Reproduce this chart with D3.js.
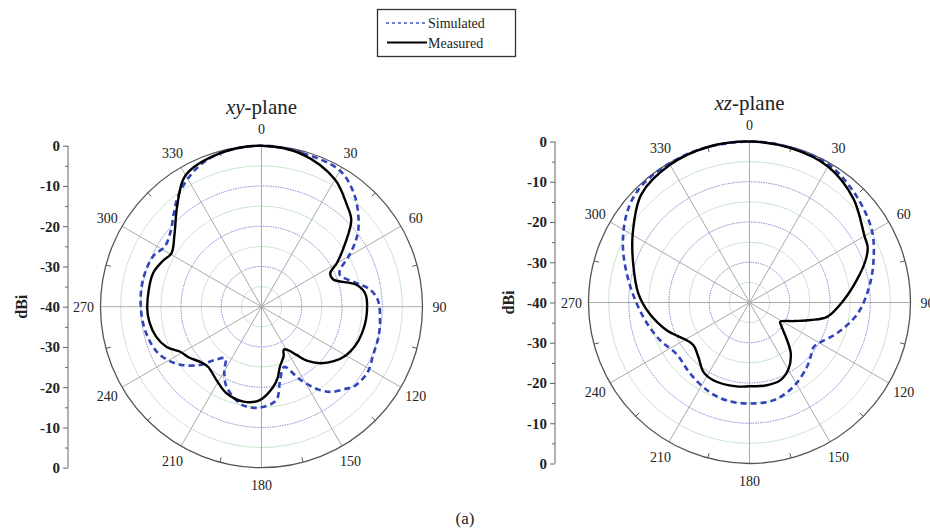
<!DOCTYPE html>
<html>
<head>
<meta charset="utf-8">
<script src="https://cdn.jsdelivr.net/npm/d3@7"></script>
<style>
  body { margin: 0; background: #fff; }
  svg text { font-family: "Liberation Serif", "DejaVu Serif", "Times New Roman", serif; fill: #222; }
</style>
</head>
<body>
<div id="chart"></div>
<script>
// [angle in degrees clockwise from 0, gain in dBi]
const xyMeasured = [
  [0, 0], [15, -0.8], [30, -3.5], [40, -7], [46, -9], [53, -14], [60, -18.4], [64, -21],
  [69, -21], [77, -15.8], [83, -14], [94, -13.8], [105, -14.2], [113, -14.8], [120, -15.8],
  [127, -17.5], [134, -19.8], [140, -22.5], [144, -25.2], [149, -27.5], [152.5, -28],
  [156, -26.5], [163, -24.4], [167, -22], [171.6, -19.9], [181, -16.8], [190.7, -16],
  [202, -16.8], [211.5, -18.6], [221.5, -20], [228, -19.5], [235, -18], [241, -16.9],
  [247, -14.4], [254, -12.8], [262, -11.9], [270, -11.6], [287, -11.8], [295, -13],
  [300.6, -14], [310, -11.8], [320, -7.4], [330, -2.3], [345, -0.5]
];
const xySimulated = [
  [0, 0], [15, -0.5], [30, -1], [40, -4], [50, -8.5], [55, -11.4], [60, -15], [65, -18.5],
  [68, -19], [76, -15.7], [81, -12.7], [87, -11], [96, -10.4], [104, -10], [113, -9.8],
  [122, -9], [131, -9.7], [134, -10.7], [140, -12.4], [145, -14.7], [152, -19.4],
  [159.4, -24], [166, -21], [171, -16.5], [181, -14.9], [188.5, -14.9], [192.5, -15.3],
  [203.6, -18.3], [210, -21.5], [215, -24.3], [222, -22], [226.5, -19], [235, -15],
  [245, -12], [257, -10.6], [270, -10], [283, -9.8], [295, -10.3], [302, -11.7],
  [310, -10.6], [317, -8.1], [324, -5.2], [335, -2], [345, -0.5]
];
const xzMeasured = [
  [0, 0], [15, -0.3], [30, -1], [45, -3.5], [60, -7], [65, -7.6], [70, -9.3], [78, -12.7],
  [88.6, -16.6], [100.5, -20.4], [106, -24.2], [112.6, -28], [122, -31], [127, -30],
  [135, -26.8], [141, -23.7], [149.4, -20.9], [158.5, -19.2], [170, -19], [180, -19.2],
  [189, -18.9], [205, -18.7], [213.6, -19.3], [223, -21.4], [232.7, -22.5], [239, -21.8],
  [251.5, -18.3], [263.7, -15], [274.6, -12.3], [288.6, -9.5], [300.6, -6.3], [315, -2],
  [330, -0.5], [345, 0]
];
const xzSimulated = [
  [0, 0], [15, -0.2], [30, -0.5], [45, -2.5], [59.4, -4.7], [71, -7.4], [82.5, -10],
  [95.9, -13], [109.5, -17], [118, -19.5], [124.7, -20.6], [131, -19.8], [138, -18.6],
  [152.5, -16.4], [166, -15], [180, -14.9], [193, -15], [206, -15.8], [220, -17],
  [235, -17.8], [247, -15.9], [262, -13.4], [280.5, -9.4], [296, -5], [309.7, -1.5],
  [321.5, -0.3], [340, 0]
];

const angleTicks = d3.range(0, 360, 30);
const majorRings = [-30, -20, -10];
const minorRings = [-35, -25, -15, -5];
const axisTicks = d3.range(0, 81, 10);
const axisMinorTicks = d3.range(5, 80, 10);

const width = 930, height = 532;
const R = 161;
const serif = '"Liberation Serif", "DejaVu Serif", "Times New Roman", serif';

const svg = d3.select('#chart').append('svg')
  .attr('width', width)
  .attr('height', height)
  .attr('font-family', serif);

// legend
const legend = svg.append('g');
legend.append('rect')
  .attr('x', 377.5).attr('y', 9.5).attr('width', 138).attr('height', 47)
  .attr('fill', 'none').attr('stroke', '#333').attr('stroke-width', 1.3);
legend.append('line')
  .attr('x1', 386).attr('x2', 427).attr('y1', 23).attr('y2', 23)
  .attr('stroke', '#4455cc').attr('stroke-width', 1.6).attr('stroke-dasharray', '3,3');
legend.append('text').attr('x', 428).attr('y', 28).attr('font-size', 14).text('Simulated');
legend.append('line')
  .attr('x1', 387).attr('x2', 427).attr('y1', 42.5).attr('y2', 42.5)
  .attr('stroke', '#000').attr('stroke-width', 2);
legend.append('text').attr('x', 428).attr('y', 47.5).attr('font-size', 14).text('Measured');

function drawPanel(opts) {
  const cx = opts.cx, cy = opts.cy;
  const r = d3.scaleLinear().domain([-40, 0]).range([0, R]);

  // title
  const title = svg.append('text')
    .attr('x', cx).attr('y', cy - 193)
    .attr('text-anchor', 'middle')
    .attr('font-size', 21);
  title.append('tspan').attr('font-style', 'italic').text(opts.plane);
  title.append('tspan').text('-plane');

  const g = svg.append('g').attr('transform', `translate(${cx},${cy})`);

  g.selectAll('.minor-ring')
    .data(minorRings)
    .enter().append('circle')
    .attr('r', d => r(d))
    .attr('fill', 'none')
    .attr('stroke', '#c4e2c4')
    .attr('stroke-width', 0.9);

  g.selectAll('.major-ring')
    .data(majorRings)
    .enter().append('circle')
    .attr('r', d => r(d))
    .attr('fill', 'none')
    .attr('stroke', '#7777cc')
    .attr('stroke-width', 0.9)
    .attr('stroke-dasharray', '1.5,1');

  g.selectAll('.spoke')
    .data(angleTicks)
    .enter().append('line')
    .attr('x1', 0).attr('y1', 0)
    .attr('x2', d => R * Math.sin(d * Math.PI / 180))
    .attr('y2', d => -R * Math.cos(d * Math.PI / 180))
    .attr('stroke', '#aaa')
    .attr('stroke-width', 1);

  g.append('circle')
    .attr('r', R)
    .attr('fill', 'none')
    .attr('stroke', '#555')
    .attr('stroke-width', 1.3);

  // minor angle ticks on the rim
  g.selectAll('.rim-tick')
    .data(angleTicks.map(d => d + 15))
    .enter().append('line')
    .attr('x1', d => R * Math.sin(d * Math.PI / 180))
    .attr('y1', d => -R * Math.cos(d * Math.PI / 180))
    .attr('x2', d => (R - 5) * Math.sin(d * Math.PI / 180))
    .attr('y2', d => -(R - 5) * Math.cos(d * Math.PI / 180))
    .attr('stroke', '#555')
    .attr('stroke-width', 1);

  g.selectAll('.angle-label')
    .data(angleTicks)
    .enter().append('text')
    .attr('x', d => 178 * Math.sin(d * Math.PI / 180))
    .attr('y', d => -178 * Math.cos(d * Math.PI / 180) + 5)
    .attr('text-anchor', 'middle')
    .attr('font-size', 14)
    .text(d => d);

  const line = d3.lineRadial()
    .angle(d => d[0] * Math.PI / 180)
    .radius(d => r(d[1]))
    .curve(d3.curveCatmullRomClosed.alpha(0.5));

  g.append('path')
    .attr('d', line(opts.simulated))
    .attr('fill', 'none')
    .attr('stroke', '#3344bb')
    .attr('stroke-width', 2.6)
    .attr('stroke-dasharray', '6,4');

  g.append('path')
    .attr('d', line(opts.measured))
    .attr('fill', 'none')
    .attr('stroke', '#000')
    .attr('stroke-width', 2.4);

  // left radial axis
  const y = d3.scaleLinear().domain([0, 80]).range([cy - R, cy + R]);
  const axis = d3.axisLeft(y)
    .tickValues(axisTicks)
    .tickSize(5)
    .tickFormat(d => String(-(40 - Math.abs(d - 40))));
  const minorAxis = d3.axisLeft(y)
    .tickValues(axisMinorTicks)
    .tickSize(3)
    .tickFormat('');

  const ax = svg.append('g')
    .attr('transform', `translate(${opts.axisX},0)`)
    .call(axis)
    .attr('font-family', serif);
  ax.select('.domain').attr('stroke', '#666').attr('d', `M0,${cy - R}V${cy + R}`);
  ax.selectAll('.tick line').attr('stroke', '#666');
  ax.selectAll('.tick text')
    .attr('font-weight', 'bold')
    .attr('font-size', 15)
    .attr('fill', '#222');
  const mx = svg.append('g')
    .attr('transform', `translate(${opts.axisX},0)`)
    .call(minorAxis);
  mx.select('.domain').remove();
  mx.selectAll('.tick line').attr('stroke', '#666');

  svg.append('text')
    .attr('transform', `translate(${opts.axisX - 41},${cy}) rotate(-90)`)
    .attr('text-anchor', 'middle')
    .attr('font-weight', 'bold')
    .attr('font-size', 16)
    .text('dBi');
}

drawPanel({ cx: 261.5, cy: 306.7, axisX: 68, plane: 'xy', measured: xyMeasured, simulated: xySimulated });
drawPanel({ cx: 749.5, cy: 302.5, axisX: 555, plane: 'xz', measured: xzMeasured, simulated: xzSimulated });

svg.append('text')
  .attr('x', 465).attr('y', 524)
  .attr('text-anchor', 'middle')
  .attr('font-size', 17)
  .text('(a)');
</script>
</body>
</html>
